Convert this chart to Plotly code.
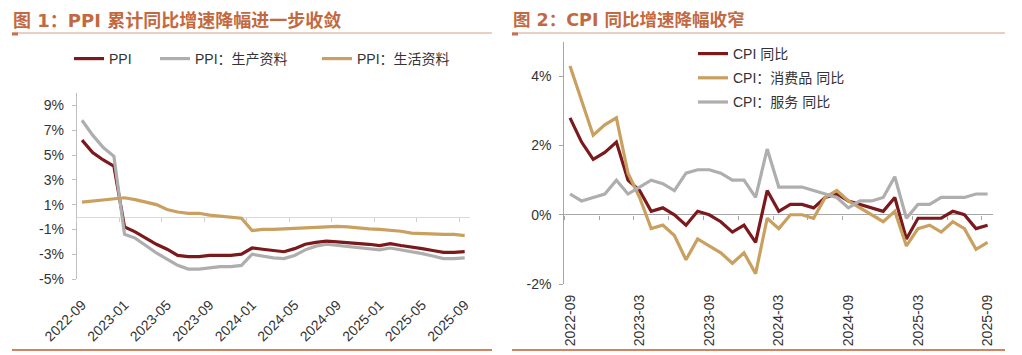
import plotly.graph_objects as go

# ---------------- data ----------------
months = ["2022-09", "2022-10", "2022-11", "2022-12",
          "2023-01", "2023-02", "2023-03", "2023-04", "2023-05", "2023-06",
          "2023-07", "2023-08", "2023-09", "2023-10", "2023-11", "2023-12",
          "2024-01", "2024-02", "2024-03", "2024-04", "2024-05", "2024-06",
          "2024-07", "2024-08", "2024-09", "2024-10", "2024-11", "2024-12",
          "2025-01", "2025-02", "2025-03", "2025-04", "2025-05", "2025-06",
          "2025-07", "2025-08", "2025-09"]

# Figure 1: PPI cumulative YoY (%)
ppi = [6.2, 5.2, 4.6, 4.1, -0.8, -1.2, -1.7, -2.2, -2.6, -3.1, -3.2, -3.2,
       -3.1, -3.1, -3.1, -3.0, -2.5, -2.6, -2.7, -2.8, -2.55, -2.2, -2.05,
       -1.95, -2.0, -2.05, -2.15, -2.2, -2.3, -2.15, -2.3, -2.4, -2.55, -2.7,
       -2.85, -2.85, -2.8]
ppi_prod = [7.8, 6.6, 5.6, 4.9, -1.4, -1.7, -2.3, -2.9, -3.4, -3.9, -4.2, -4.2,
            -4.1, -4.0, -4.0, -3.9, -3.0, -3.15, -3.3, -3.35, -3.1, -2.65, -2.35,
            -2.2, -2.3, -2.4, -2.5, -2.55, -2.65, -2.5, -2.65, -2.75, -2.95, -3.15,
            -3.35, -3.35, -3.3]
ppi_living = [1.2, 1.3, 1.35, 1.45, 1.55, 1.4, 1.2, 1.0, 0.6, 0.4, 0.3, 0.3,
              0.15, 0.05, 0.0, -0.1, -1.1, -1.0, -1.0, -0.95, -0.9, -0.85, -0.8,
              -0.75, -0.75, -0.8, -0.9, -0.95, -1.0, -1.05, -1.15, -1.3, -1.35,
              -1.35, -1.4, -1.4, -1.5]

# Figure 2: CPI YoY (%)
cpi = [2.8, 2.1, 1.6, 1.8, 2.1, 1.0, 0.7, 0.1, 0.2, 0.0, -0.3, 0.1, 0.0, -0.2,
       -0.5, -0.3, -0.8, 0.7, 0.1, 0.3, 0.3, 0.2, 0.5, 0.6, 0.4, 0.3, 0.2, 0.1,
       0.5, -0.7, -0.1, -0.1, -0.1, 0.1, 0.0, -0.4, -0.3]
cpi_goods = [4.3, 3.3, 2.3, 2.6, 2.8, 1.2, 0.5, -0.4, -0.3, -0.6, -1.3, -0.7,
             -0.9, -1.1, -1.4, -1.1, -1.7, -0.1, -0.4, 0.0, 0.0, -0.1, 0.5, 0.7,
             0.4, 0.2, 0.0, -0.2, 0.1, -0.9, -0.4, -0.3, -0.5, -0.2, -0.4, -1.0,
             -0.8]
cpi_services = [0.6, 0.4, 0.5, 0.6, 1.0, 0.6, 0.8, 1.0, 0.9, 0.7, 1.2, 1.3, 1.3,
                1.2, 1.0, 1.0, 0.5, 1.9, 0.8, 0.8, 0.8, 0.7, 0.6, 0.5, 0.2, 0.4,
                0.4, 0.5, 1.1, -0.1, 0.3, 0.3, 0.5, 0.5, 0.5, 0.6, 0.6]

left_xticks = ["2022-09", "2023-01", "2023-05", "2023-09", "2024-01",
               "2024-05", "2024-09", "2025-01", "2025-05", "2025-09"]
right_xticks = ["2022-09", "2023-03", "2023-09", "2024-03", "2024-09",
                "2025-03", "2025-09"]
left_yticks = [-5, -3, -1, 1, 3, 5, 7, 9]
right_yticks = [-2, 0, 2, 4]

left_title = "图 1：PPI 累计同比增速降幅进一步收敛"
right_title = "图 2：CPI 同比增速降幅收窄"
names_left = ["PPI", "PPI：生产资料", "PPI：生活资料"]
names_right = ["CPI 同比", "CPI：消费品 同比", "CPI：服务 同比"]

# ---------------- style / layout helpers ----------------
W, H = 1022, 355


def px(x):
    return x / W


def py(y):
    return 1 - y / H


RED = "#7B1A1D"
GRAY = "#AEAEAE"
GOLD = "#C9A05F"
TITLE_C = "#C3693F"
TXT = "#333333"
FONT = "Liberation Sans, Arial, Noto Sans CJK SC, sans-serif"
TITLE_FONT = "DejaVu Sans, Noto Sans CJK SC, sans-serif"

n = len(months)
xrange_ = [-0.5, n - 0.5]

L_dom_x = [px(76.7), px(470)]
L_dom_y = [py(279), py(93)]
L_yr = [-5, 10]
R_dom_x = [px(564.2), px(993.4)]
R_dom_y = [py(284), py(41.7)]
R_yr = [-2, 5]


def zero_pos(dom, rng):
    return dom[0] + (0 - rng[0]) / (rng[1] - rng[0]) * (dom[1] - dom[0])


fig = go.Figure()

left_legends = ["legend", "legend3", "legend4"]
for vals, name, col, lg in zip([ppi, ppi_prod, ppi_living], names_left,
                               [RED, GRAY, GOLD], left_legends):
    fig.add_trace(go.Scatter(x=months, y=vals, name=name, mode="lines",
                             line=dict(color=col, width=3.2),
                             xaxis="x", yaxis="y", legend=lg))

for vals, name, col in zip([cpi, cpi_goods, cpi_services], names_right, [RED, GOLD, GRAY]):
    fig.add_trace(go.Scatter(x=months, y=vals, name=name, mode="lines",
                             line=dict(color=col, width=3.2),
                             xaxis="x2", yaxis="y2", legend="legend2",
                             legendgroup=name))

# helper empty traces for the tick-only axes on the zero lines
fig.add_trace(go.Scatter(x=[None], y=[None], xaxis="x3", yaxis="y", showlegend=False, hoverinfo="skip"))
fig.add_trace(go.Scatter(x=[None], y=[None], xaxis="x4", yaxis="y2", showlegend=False, hoverinfo="skip"))

# boundaries between categories for axis tick marks
left_bounds = [months.index(m) - 0.5 for m in left_xticks]
right_bounds = [i - 0.5 for i in range(0, n, 3)]

axis_common = dict(showgrid=False, fixedrange=True, automargin=False)
leg_common = dict(bgcolor="rgba(0,0,0,0)", font=dict(size=14, color=TXT), itemwidth=30)

# left legend entries: text starts at 109, 195, 357 px; textGap = 40 px
left_leg_x = [109 - 40, 195 - 40, 357 - 40]

fig.update_layout(
    width=W, height=H,
    margin=dict(l=0, r=0, t=0, b=0, autoexpand=False),
    paper_bgcolor="white", plot_bgcolor="white",
    font=dict(family=FONT, size=14, color=TXT),
    xaxis=dict(domain=L_dom_x, anchor="y", type="category", range=xrange_,
               tickvals=left_xticks, ticktext=left_xticks, tickangle=-45,
               showline=False, zeroline=False, ticks="",
               ticklabelstandoff=14, tickfont=dict(size=14, color=TXT), **axis_common),
    yaxis=dict(domain=L_dom_y, anchor="x", range=L_yr,
               tickvals=left_yticks, ticktext=[f"{v}%" for v in left_yticks],
               showline=True, linecolor="#BFBFBF", linewidth=1,
               ticks="outside", ticklen=4, tickcolor="#BFBFBF",
               zeroline=True, zerolinecolor="#D9D9D9", zerolinewidth=1,
               ticklabelstandoff=5, tickfont=dict(size=14, color=TXT), **axis_common),
    xaxis3=dict(domain=L_dom_x, overlaying="x", anchor="free",
                position=zero_pos(L_dom_y, L_yr), range=xrange_,
                tickvals=left_bounds, ticks="outside", ticklen=4, tickcolor="#D0D0D0",
                showticklabels=False, showline=False, zeroline=False, **axis_common),
    xaxis2=dict(domain=R_dom_x, anchor="y2", type="category", range=xrange_,
                tickvals=right_xticks, ticktext=right_xticks, tickangle=-90,
                showline=False, zeroline=False, ticks="",
                ticklabelstandoff=7, tickfont=dict(size=14, color=TXT), **axis_common),
    yaxis2=dict(domain=R_dom_y, anchor="x2", range=R_yr,
                tickvals=right_yticks, ticktext=[f"{v}%" for v in right_yticks],
                showline=True, linecolor="#A6A6A6", linewidth=1,
                ticks="outside", ticklen=4, tickcolor="#A6A6A6",
                zeroline=True, zerolinecolor="#A6A6A6", zerolinewidth=1,
                ticklabelstandoff=5, tickfont=dict(size=14, color=TXT), **axis_common),
    xaxis4=dict(domain=R_dom_x, overlaying="x2", anchor="free",
                position=zero_pos(R_dom_y, R_yr), range=xrange_,
                tickvals=right_bounds, ticks="outside", ticklen=4, tickcolor="#A6A6A6",
                showticklabels=False, showline=False, zeroline=False, **axis_common),
    legend=dict(orientation="h", x=px(left_leg_x[0]), y=py(59), xanchor="left",
                yanchor="middle", **leg_common),
    legend3=dict(orientation="h", x=px(left_leg_x[1]), y=py(59), xanchor="left",
                 yanchor="middle", **leg_common),
    legend4=dict(orientation="h", x=px(left_leg_x[2]), y=py(59), xanchor="left",
                 yanchor="middle", **leg_common),
    legend2=dict(orientation="v", x=px(733 - 40), y=py(38), xanchor="left", yanchor="top",
                 tracegroupgap=3, **leg_common),
    showlegend=True,
)

# titles
for x0, title, size in [(11, left_title, 18), (511, right_title, 17.5)]:
    fig.add_annotation(x=px(x0), y=py(20), xref="paper", yref="paper",
                       xanchor="left", yanchor="middle",
                       text=f"<b>{title}</b>", showarrow=False,
                       font=dict(size=size, color=TITLE_C, family=TITLE_FONT))

# title underlines (with short accent at the left end) and bottom rules
for x0, x1 in [(12, 492), (512, 1005)]:
    fig.add_shape(type="line", xref="paper", yref="paper", x0=px(x0), x1=px(x1),
                  y0=py(33), y1=py(33), line=dict(color="#D4A088", width=1))
    fig.add_shape(type="line", xref="paper", yref="paper", x0=px(x0), x1=px(x0 + 6),
                  y0=py(34), y1=py(34), line=dict(color="#C27350", width=3))
    fig.add_shape(type="line", xref="paper", yref="paper", x0=px(x0), x1=px(x1),
                  y0=py(350), y1=py(350), line=dict(color="#D08462", width=2))

fig.write_html("out.html", config={"displayModeBar": False},
               post_script="document.body.style.margin='0';document.body.style.overflow='hidden';")
